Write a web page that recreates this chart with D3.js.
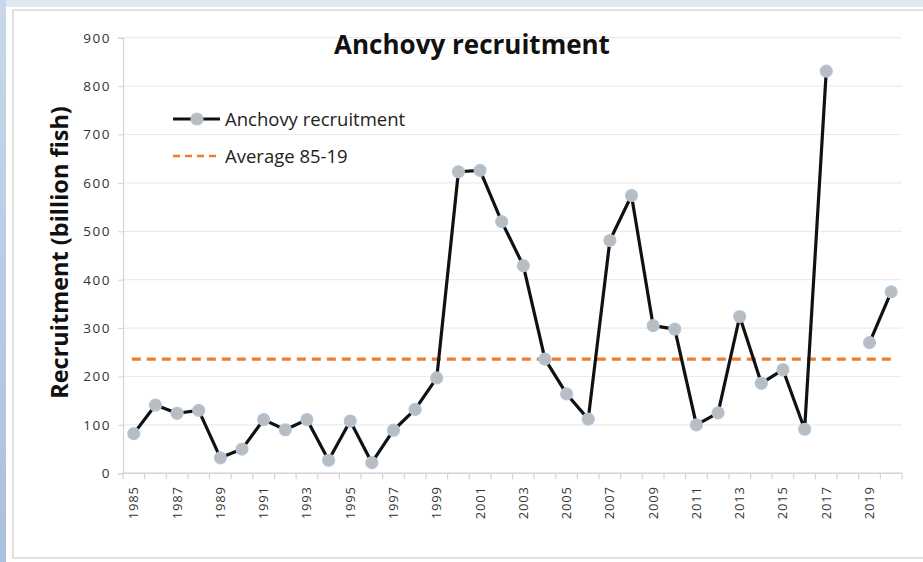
<!DOCTYPE html>
<html>
<head>
<meta charset="utf-8">
<script src="https://cdn.jsdelivr.net/npm/d3@7"></script>
<style>
  html, body { margin: 0; padding: 0; background: #fff; }
  svg { display: block; font-family: "Open Sans", "Liberation Sans", sans-serif; }
</style>
</head>
<body>
<div id="chart"></div>
<script>
// Data
const years = d3.range(1985, 2021);
const recruitment = [82, 141, 124, 130, 32, 50, 111, 90, 111, 27, 108, 22, 89, 132, 197,
  623, 626, 520, 429, 236, 164, 112, 481, 574, 305, 298, 100, 125, 324, 186,
  214, 91, 831, null, 270, 375];
const average = 236;
const yTicks = [0, 100, 200, 300, 400, 500, 600, 700, 800, 900];
const xLabelYears = years.filter((y) => y % 2 === 1);

const W = 923, H = 562;
const svg = d3.select('#chart').append('svg').attr('width', W).attr('height', H);

// slide-like frame
const defs = svg.append('defs');
const grad = defs.append('linearGradient').attr('id', 'leftband').attr('x1', 0).attr('x2', 0).attr('y1', 0).attr('y2', 1);
grad.append('stop').attr('offset', '0%').attr('stop-color', '#c9d7ea');
grad.append('stop').attr('offset', '100%').attr('stop-color', '#a9c0de');
svg.append('rect').attr('x', 0).attr('y', 0).attr('width', W).attr('height', 7).attr('fill', '#dfe7f2');
svg.append('rect').attr('x', 0).attr('y', 0).attr('width', 6).attr('height', H).attr('fill', 'url(#leftband)');
svg.append('rect').attr('x', 13).attr('y', 10).attr('width', W).attr('height', 548)
  .attr('fill', '#fff').attr('stroke', '#d6d6d6').attr('stroke-width', 1.5);

const plotLeft = 123, plotRight = 902, plotTop = 37.7, plotBottom = 473.3;

const x = d3.scaleBand().domain(years).range([plotLeft, plotRight]).paddingInner(0).paddingOuter(0);
const cx = (yr) => x(yr) + x.bandwidth() / 2;
const y = d3.scaleLinear().domain([0, 900]).range([plotBottom, plotTop]);

// gridlines
svg.append('g').selectAll('line').data(yTicks.filter((t) => t > 0)).join('line')
  .attr('x1', plotLeft).attr('x2', plotRight)
  .attr('y1', (d) => y(d)).attr('y2', (d) => y(d))
  .attr('stroke', '#ececec').attr('stroke-width', 1.2);

// y axis
const yAxis = svg.append('g').attr('transform', `translate(${plotLeft},0)`)
  .call(d3.axisLeft(y).tickValues(yTicks).tickSize(5).tickPadding(7));
yAxis.select('.domain').attr('stroke', '#d4d4d4').attr('stroke-width', 1.2);
yAxis.selectAll('.tick line').attr('stroke', '#d4d4d4');
yAxis.selectAll('.tick text').attr('fill', '#333').style('font-size', '13.5px')
  .style('letter-spacing', '1.5px').style('font-family', '"Open Sans", sans-serif');

// x axis: tick marks at category boundaries
const xg = svg.append('g');
xg.append('line').attr('x1', plotLeft).attr('x2', plotRight).attr('y1', plotBottom).attr('y2', plotBottom)
  .attr('stroke', '#d4d4d4').attr('stroke-width', 1.5);
const boundaries = years.map((d) => x(d)).concat([plotRight]);
xg.selectAll('line.tk').data(boundaries).join('line').attr('class', 'tk')
  .attr('x1', (d) => d).attr('x2', (d) => d)
  .attr('y1', plotBottom).attr('y2', plotBottom + 6)
  .attr('stroke', '#d4d4d4').attr('stroke-width', 1.2);
xg.selectAll('text').data(xLabelYears).join('text')
  .attr('transform', (d) => `translate(${cx(d) + 4.5},${plotBottom + 13}) rotate(-90)`)
  .attr('text-anchor', 'end')
  .attr('fill', '#333')
  .style('font-size', '13px')
  .style('letter-spacing', '0.8px')
  .text((d) => d);

// average line
svg.append('line')
  .attr('x1', cx(1985) - 2).attr('x2', cx(2020) + 1)
  .attr('y1', y(average)).attr('y2', y(average))
  .attr('stroke', '#ed7d31').attr('stroke-width', 3.2).attr('stroke-dasharray', '9,6');

// series line (gap where data missing)
const pts = years.map((yr, i) => ({ yr, v: recruitment[i] }));
const line = d3.line().defined((d) => d.v != null).x((d) => cx(d.yr)).y((d) => y(d.v));
svg.append('path').datum(pts).attr('d', line)
  .attr('fill', 'none').attr('stroke', '#111').attr('stroke-width', 3.2).attr('stroke-linejoin', 'round');

svg.append('g').selectAll('circle').data(pts.filter((d) => d.v != null)).join('circle')
  .attr('cx', (d) => cx(d.yr)).attr('cy', (d) => y(d.v)).attr('r', 6)
  .attr('fill', '#bcbcbc').attr('stroke', '#a9c8e8').attr('stroke-width', 1.2);

// title
svg.append('text').attr('x', 472).attr('y', 54).attr('text-anchor', 'middle')
  .style('font-size', '26px').style('font-weight', 'bold').attr('fill', '#111')
  .text('Anchovy recruitment');

// y axis title
svg.append('text').attr('transform', `translate(68,${(100 + 405) / 2}) rotate(-90)`)
  .attr('text-anchor', 'middle').style('font-size', '23.5px').style('font-weight', 'bold').attr('fill', '#111')
  .text('Recruitment (billion fish)');

// legend
const lg = svg.append('g');
lg.append('line').attr('x1', 173).attr('x2', 220).attr('y1', 119).attr('y2', 119)
  .attr('stroke', '#111').attr('stroke-width', 3.2);
lg.append('circle').attr('cx', 197).attr('cy', 119).attr('r', 6)
  .attr('fill', '#bcbcbc').attr('stroke', '#a9c8e8').attr('stroke-width', 1.2);
lg.append('text').attr('x', 225).attr('y', 125.5).style('font-size', '18.5px').attr('fill', '#222')
  .text('Anchovy recruitment');
lg.append('line').attr('x1', 173).attr('x2', 220).attr('y1', 156).attr('y2', 156)
  .attr('stroke', '#ed7d31').attr('stroke-width', 2.5).attr('stroke-dasharray', '7,5');
lg.append('text').attr('x', 225).attr('y', 162.5).style('font-size', '18.5px').attr('fill', '#222')
  .text('Average 85-19');
</script>
</body>
</html>
